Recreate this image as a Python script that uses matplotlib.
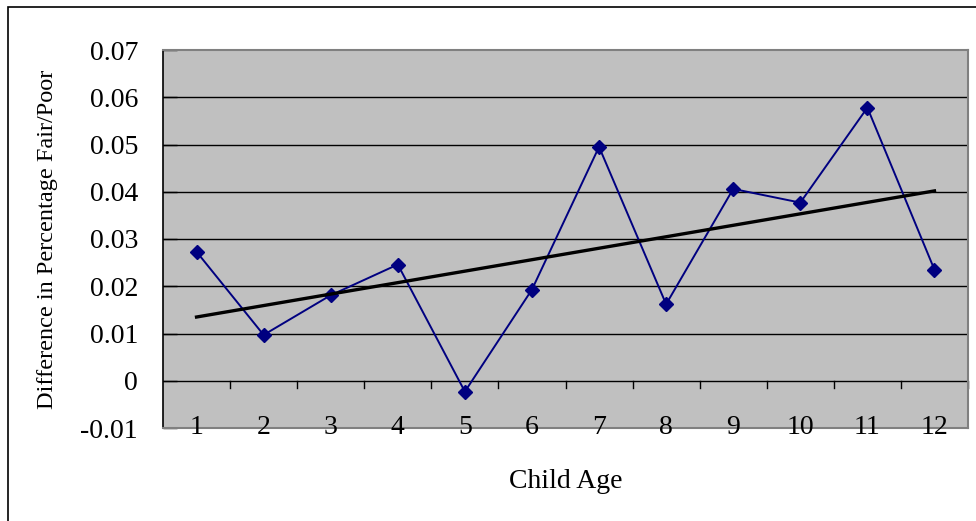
import numpy as np
import matplotlib
matplotlib.use("Agg")
import matplotlib.pyplot as plt
from matplotlib.patches import Rectangle

plt.rcParams['font.family'] = ['Liberation Serif', 'DejaVu Serif']

ages = [1, 2, 3, 4, 5, 6, 7, 8, 9, 10, 11, 12]
diff = [0.0273, 0.0097, 0.0181, 0.0246, -0.0023, 0.0193,
        0.0495, 0.0162, 0.0406, 0.0377, 0.0578, 0.0235]
yticks = [-0.01, 0, 0.01, 0.02, 0.03, 0.04, 0.05, 0.06, 0.07]
ytick_labels = ['-0.01', '0', '0.01', '0.02', '0.03', '0.04', '0.05', '0.06', '0.07']

W, H = 976, 521
fig = plt.figure(figsize=(W / 100, H / 100), dpi=100)
ax = fig.add_axes([163 / W, 1 - 428 / H, (968 - 163) / W, (428 - 50) / H])
ax.set_facecolor('#C0C0C0')

x = np.array(ages)
y = np.array(diff)

# horizontal gridlines between the top and bottom of the value range
for v in yticks[1:-1]:
    ax.axhline(v, color='black', lw=1.0, zorder=1)

# category tick marks hanging off the zero line
for b in np.arange(0.5, 13, 1.0)[1:]:
    ax.plot([b, b], [0, -0.0015], color='black', lw=1.0, zorder=1, clip_on=False)

ax.plot(x, y, color='#000080', lw=1.4, marker='D', markersize=7.5,
        markerfacecolor='#000080', markeredgecolor='#000080', zorder=3)

# linear trend line
slope, icpt = np.polyfit(x, y, 1)
ax.plot(x, slope * x + icpt, color='black', lw=2.4, zorder=4)

ax.set_xlim(0.5, 12.5)
ax.set_ylim(-0.01, 0.07)
ax.set_xticks([])
ax.set_yticks(yticks)
ax.set_yticklabels(ytick_labels, fontsize=20)
ax.tick_params(axis='y', direction='in', length=10, width=1, pad=18, colors='black')

for s in ['top', 'right', 'bottom']:
    ax.spines[s].set_color('#808080')
    ax.spines[s].set_linewidth(1.5)
ax.spines['left'].set_color('black')
ax.spines['left'].set_linewidth(1.2)

for a in ages:
    ax.text(a, -0.01, str(a), ha='center', va='center', fontsize=20, zorder=5)

ax.set_ylabel('Difference in Percentage Fair/Poor', fontsize=17.5)
ax.yaxis.set_label_coords(-0.131, 0.5)
fig.text(566 / W, 1 - 481 / H, 'Child Age', ha='center', va='center', fontsize=20)

fig.add_artist(Rectangle((8 / W, -0.1), 1.2, 1.1 - 7 / H, transform=fig.transFigure,
                         fill=False, edgecolor='black', lw=1.2))

fig.savefig('out.png', dpi=100)
